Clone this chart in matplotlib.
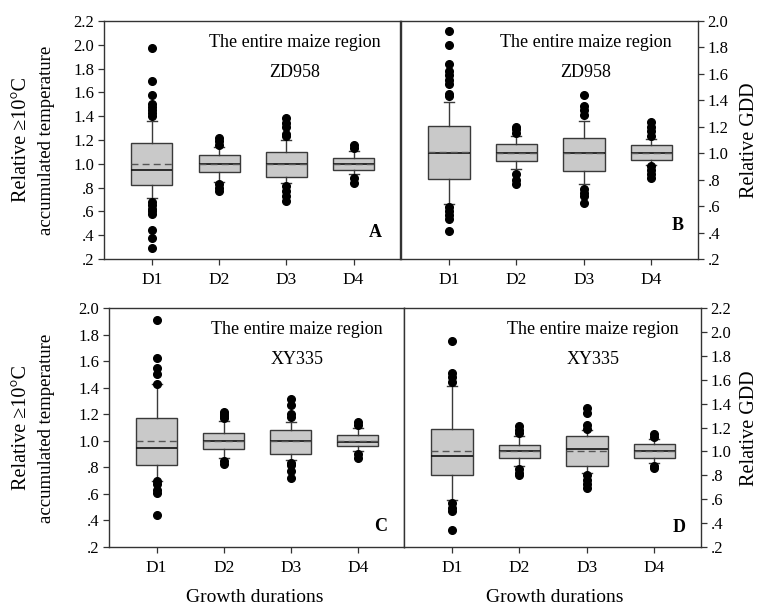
import matplotlib
matplotlib.use("Agg")
import matplotlib.pyplot as plt

plt.rcParams['font.family'] = ['Liberation Serif', 'DejaVu Serif']

categories = ["D1", "D2", "D3", "D4"]

# Panel A (ZD958, relative >=10C accumulated temperature)
A_q1 = [0.82, 0.935, 0.887, 0.95]
A_med = [0.95, 1.0, 1.0, 1.0]
A_q3 = [1.175, 1.07, 1.099, 1.048]
A_lo = [0.71, 0.85, 0.842, 0.918]
A_hi = [1.363, 1.138, 1.203, 1.104]
A_mean = [1.0, 1.0, 1.0, 1.0]
A_fliers = [
    [1.975, 1.70, 1.58, 1.50, 1.48, 1.45, 1.43, 1.40, 0.68, 0.65, 0.62, 0.60, 0.58, 0.44, 0.375, 0.296],
    [1.214, 1.19, 1.16, 0.83, 0.80, 0.775],
    [1.383, 1.34, 1.31, 1.25, 1.23, 0.81, 0.77, 0.73, 0.685],
    [1.16, 1.13, 0.88, 0.836],
]

# Panel B (ZD958, relative GDD)
B_q1 = [0.804, 0.944, 0.867, 0.949]
B_med = [1.0, 1.0, 1.005, 1.0]
B_q3 = [1.204, 1.066, 1.115, 1.059]
B_lo = [0.613, 0.878, 0.766, 0.91]
B_hi = [1.39, 1.127, 1.242, 1.107]
B_mean = [1.008, 1.0, 1.005, 1.0]
B_fliers = [
    [1.925, 1.82, 1.675, 1.62, 1.59, 1.555, 1.52, 1.45, 1.43, 0.59, 0.56, 0.53, 0.50, 0.414],
    [1.20, 1.18, 1.15, 0.84, 0.80, 0.77],
    [1.44, 1.357, 1.33, 1.29, 0.73, 0.70, 0.68, 0.623],
    [1.234, 1.20, 1.165, 1.13, 0.90, 0.87, 0.84, 0.81],
]

# Panel C (XY335, relative >=10C accumulated temperature)
C_q1 = [0.82, 0.937, 0.90, 0.957]
C_med = [0.947, 1.0, 1.0, 0.992]
C_q3 = [1.17, 1.058, 1.08, 1.046]
C_lo = [0.70, 0.87, 0.853, 0.924]
C_hi = [1.43, 1.152, 1.14, 1.10]
C_mean = [1.0, 1.0, 1.0, 1.0]
C_fliers = [
    [1.91, 1.62, 1.545, 1.50, 1.43, 0.694, 0.676, 0.626, 0.605, 0.44],
    [1.215, 1.20, 1.185, 1.17, 0.85, 0.823],
    [1.316, 1.27, 1.20, 1.18, 0.835, 0.82, 0.77, 0.72],
    [1.14, 1.12, 0.90, 0.873],
]

# Panel D (XY335, relative GDD)
D_q1 = [0.803, 0.944, 0.879, 0.944]
D_med = [0.963, 1.0, 1.02, 1.0]
D_q3 = [1.189, 1.054, 1.13, 1.065]
D_lo = [0.597, 0.879, 0.817, 0.90]
D_hi = [1.55, 1.127, 1.183, 1.104]
D_mean = [1.0, 1.0, 1.0, 1.0]
D_fliers = [
    [1.927, 1.66, 1.625, 1.58, 0.57, 0.53, 0.50, 0.344],
    [1.21, 1.18, 1.15, 0.85, 0.82, 0.803],
    [1.36, 1.324, 1.217, 1.19, 0.80, 0.76, 0.73, 0.696],
    [1.146, 1.12, 0.88, 0.86],
]

yticks_22 = [0.2, 0.4, 0.6, 0.8, 1.0, 1.2, 1.4, 1.6, 1.8, 2.0, 2.2]
yticklabels_22 = [".2", ".4", ".6", ".8", "1.0", "1.2", "1.4", "1.6", "1.8", "2.0", "2.2"]
yticks_20 = yticks_22[:-1]
yticklabels_20 = yticklabels_22[:-1]

title_line1 = "The entire maize region"
variety_top = "ZD958"
variety_bottom = "XY335"
ylabel_left = ["Relative \u226510\u00b0C", "accumulated temperature"]
ylabel_right = "Relative GDD"
xlabel = "Growth durations"

fig = plt.figure(figsize=(7.64, 6.09), dpi=100)

W, H = 764.0, 609.0
def rect(x0, x1, y0, y1):
    return [x0 / W, 1 - y1 / H, (x1 - x0) / W, (y1 - y0) / H]

axA = fig.add_axes(rect(104, 400, 21, 259))
axB = fig.add_axes(rect(401, 698, 21, 259))
axC = fig.add_axes(rect(109, 404, 308, 547))
axD = fig.add_axes(rect(404, 701, 308, 547))

edge = "#3a3a3a"
face = "#c9c9c9"

def draw(ax, q1, med, q3, lo, hi, mean, fliers, ylim, yt, ytl, side,
         letter, variety, tx, lx, ly):
    stats = []
    for i, c in enumerate(categories):
        stats.append(dict(label=c, q1=q1[i], med=med[i], q3=q3[i],
                          whislo=lo[i], whishi=hi[i], mean=mean[i],
                          fliers=fliers[i]))
    ax.bxp(stats, positions=[1, 2, 3, 4], widths=0.61, patch_artist=True,
           showmeans=True, meanline=True, showfliers=True,
           boxprops=dict(facecolor=face, edgecolor=edge, linewidth=1.0),
           medianprops=dict(color="#111111", linewidth=1.2),
           meanprops=dict(color="#555555", linewidth=1.0, linestyle=(0, (5, 3))),
           whiskerprops=dict(color=edge, linewidth=1.0),
           capprops=dict(color=edge, linewidth=1.0),
           capwidths=0.15,
           flierprops=dict(marker="o", markersize=5.5, markerfacecolor="black",
                           markeredgecolor="black", linestyle="none"))
    ax.set_xlim(0.29, 4.69)
    ax.set_ylim(*ylim)
    ax.set_xticks([1, 2, 3, 4])
    ax.set_xticklabels(categories, fontsize=12.5)
    ax.set_yticks(yt)
    ax.set_yticklabels(ytl, fontsize=12)
    if side == "right":
        ax.yaxis.tick_right()
        ax.yaxis.set_label_position("right")
    ax.tick_params(axis="both", direction="out", length=4, width=0.9,
                   color="#333333", pad=3)
    ax.tick_params(axis="x", pad=5)
    for s in ax.spines.values():
        s.set_color("#333333")
        s.set_linewidth(1.0)
    ax.text(tx, 0.91, title_line1, transform=ax.transAxes, ha="center",
            va="center", fontsize=13)
    ax.text(tx, 0.785, variety, transform=ax.transAxes, ha="center",
            va="center", fontsize=13)
    ax.text(lx, ly, letter, transform=ax.transAxes, ha="center",
            va="center", fontsize=13, fontweight="bold")

draw(axA, A_q1, A_med, A_q3, A_lo, A_hi, A_mean, A_fliers, (0.2, 2.2),
     yticks_22, yticklabels_22, "left", "A", variety_top, 0.645, 0.915, 0.11)
draw(axB, B_q1, B_med, B_q3, B_lo, B_hi, B_mean, B_fliers, (0.2, 2.0),
     yticks_20, yticklabels_20, "right", "B", variety_top, 0.623, 0.93, 0.14)
draw(axC, C_q1, C_med, C_q3, C_lo, C_hi, C_mean, C_fliers, (0.2, 2.0),
     yticks_20, yticklabels_20, "left", "C", variety_bottom, 0.637, 0.92, 0.085)
draw(axD, D_q1, D_med, D_q3, D_lo, D_hi, D_mean, D_fliers, (0.2, 2.2),
     yticks_22, yticklabels_22, "right", "D", variety_bottom, 0.636, 0.925, 0.08)

for ax, yc in ((axA, 140), (axC, 428)):
    fig.text(22 / W, 1 - yc / H, ylabel_left[0], rotation=90, ha="center",
             va="center", fontsize=14.5)
    fig.text(47 / W, 1 - yc / H, ylabel_left[1], rotation=90, ha="center",
             va="center", fontsize=13.5)

for ax, yc in ((axB, 140), (axD, 428)):
    fig.text(749 / W, 1 - yc / H, ylabel_right, rotation=90, ha="center",
             va="center", fontsize=14.5)

fig.text(255 / W, 1 - 597 / H, xlabel, ha="center", va="center", fontsize=14)
fig.text(555 / W, 1 - 597 / H, xlabel, ha="center", va="center", fontsize=14)

fig.savefig("out.png", dpi=100)
